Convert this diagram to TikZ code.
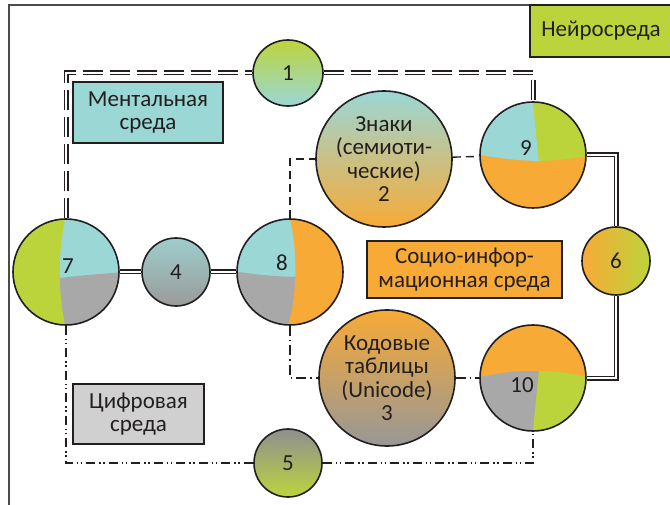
\documentclass[tikz,border=0pt]{standalone}
\usepackage{fontspec}
\setmainfont{Carlito}
\usetikzlibrary{shapes.geometric}
\definecolor{teal1}{HTML}{9BD7D5}
\definecolor{green1}{HTML}{BCD43C}
\definecolor{orange1}{HTML}{F7AA36}
\definecolor{gray1}{HTML}{A8A8A8}
\definecolor{gray2}{HTML}{D0D0D0}
\definecolor{ink}{HTML}{231F20}
\tikzset{
  envbox/.style={draw=ink, line width=1.5pt, text=ink, align=center, inner sep=0pt},
  ball/.style={circle, draw=ink, line width=1.6pt, text=ink, align=center, inner sep=0pt},
  pienode/.style={ball, minimum size=106pt},
  smallball/.style={ball, minimum size=68pt},
  bigball/.style={ball, minimum size=136pt},
  dbllink/.style={draw=ink, line width=1.5pt, double=white, double distance=2pt},
  dbldash/.style={dbllink, dash pattern=on 20pt off 7pt},
  dashlink/.style={draw=ink, line width=1.4pt, dash pattern=on 8pt off 5pt},
  dotlink/.style={draw=ink, line width=1.4pt, dash pattern=on 10pt off 4pt on 1.5pt off 4pt},
  ddotlink/.style={draw=ink, line width=1.4pt, dash pattern=on 9pt off 4pt on 1.5pt off 2.5pt on 1.5pt off 4pt},
}
\begin{document}
\begin{tikzpicture}[x=1pt, y=-1pt, font=\fontsize{23}{23.5}\selectfont]
  \useasboundingbox (0,0) rectangle (670,505);
  \draw[black!70, line width=1.5pt] (9,510) -- (9,5) -- (675,5);

  % environments
  \node[envbox, fill=green1, minimum width=142pt, minimum height=52pt] (neuro) at (601,31) {Нейросреда};
  \node[envbox, fill=teal1, minimum width=150pt, minimum height=61pt] (mental) at (148,112.5) {Ментальная\\среда};
  \node[envbox, fill=gray2, minimum width=131pt, minimum height=60pt] (digital) at (138.5,414) {Цифровая\\среда};
  \node[envbox, fill=orange1, minimum width=195pt, minimum height=57pt] (socio) at (464.5,269.5) {Социо-инфор-\\мационная среда};

  % simple nodes
  \node[ball, ellipse, minimum width=70pt, minimum height=66pt, top color=green1, bottom color=teal1] (n1) at (288,73) {1};
  \node[bigball, top color=teal1, bottom color=orange1] (n2) at (384,159) {Знаки\\(семиоти-\\ческие)\\2};
  \node[bigball, top color=orange1, bottom color=gray1!90!black] (n3) at (387,378) {Кодовые\\таблицы\\(Unicode)\\3};
  \node[smallball, top color=teal1!80!gray1, bottom color=gray1!92!black] (n4) at (176,272) {4};
  \node[smallball, top color=gray1!85!black, bottom color=green1] (n5) at (288,463) {5};
  \node[smallball, left color=orange1, middle color=orange1, right color=green1] (n6) at (616,261) {6};

  % pie nodes
  \node[pienode, label={[xshift=2pt, yshift=6pt, text=ink]center:7}, path picture={
    \begin{scope}[shift={(path picture bounding box.center)}]
      \fill[teal1] (-60,-60) rectangle (60,60);
      \fill[gray1] (-60,8) -- (-6,6) .. controls (20,3) .. (60,0) -- (60,60) -- (-60,60) -- cycle;
      \fill[green1] (-1,-60) -- (-1,-53) .. controls (-8,-20) and (-8,20) .. (-1,53) -- (-1,60) -- (-60,60) -- (-60,-60) -- cycle;
    \end{scope}}] (n7) at (66,272) {};
  \node[pienode, label={[xshift=-8pt, yshift=9pt, text=ink]center:8}, path picture={
    \begin{scope}[shift={(path picture bounding box.center)}]
      \fill[teal1] (-60,-60) rectangle (60,60);
      \fill[gray1] (-60,-1) .. controls (-20,4) .. (6,5) -- (6,60) -- (-60,60) -- cycle;
      \fill[orange1] (0,-60) -- (0,-53) .. controls (8,-20) and (7,25) .. (-2,53) -- (-2,60) -- (60,60) -- (60,-60) -- cycle;
    \end{scope}}] (n8) at (290,272) {};
  \node[pienode, label={[xshift=-7pt, yshift=7pt, text=ink]center:9}, path picture={
    \begin{scope}[shift={(path picture bounding box.center)}]
      \fill[orange1] (-60,-60) rectangle (60,60);
      \fill[teal1] (-60,-60) -- (0,-60) -- (0,-53) -- (6,6) .. controls (-20,5) .. (-60,-1) -- cycle;
      \fill[green1] (0,-60) -- (0,-53) -- (6,6) .. controls (30,5) .. (60,0) -- (60,-60) -- cycle;
    \end{scope}}] (n9) at (533,155) {};
  \node[pienode, label={[xshift=-11pt, yshift=-7pt, text=ink]center:10}, path picture={
    \begin{scope}[shift={(path picture bounding box.center)}]
      \fill[orange1] (-60,-60) rectangle (60,60);
      \fill[gray1] (-60,0) .. controls (-20,-7) .. (6,-7) -- (0,53) -- (0,60) -- (-60,60) -- cycle;
      \fill[green1] (6,-7) .. controls (30,-6) .. (60,0) -- (60,60) -- (0,60) -- (0,53) -- cycle;
    \end{scope}}] (n10) at (533,378) {};

  % links
  \draw[dbldash] (n7.north) |- (n1.west);
  \draw[dbldash] (n1.east) -| (n9.north);
  \draw[dbllink] (n7) -- (n4);
  \draw[dbllink] (n4) -- (n8);
  \draw[dbllink] (n9) -| (n6);
  \draw[dbllink] (n6) |- (n10);
  \draw[dashlink] (n8.north) |- (n2);
  \draw[dashlink] (n2) -- (n9);
  \draw[dotlink] (n8.south) |- (n3);
  \draw[dotlink] (n3) -- (n10);
  \draw[ddotlink] (n7.south) |- (n5);
  \draw[ddotlink] (n5) -| (n10.south);
\end{tikzpicture}
\end{document}
